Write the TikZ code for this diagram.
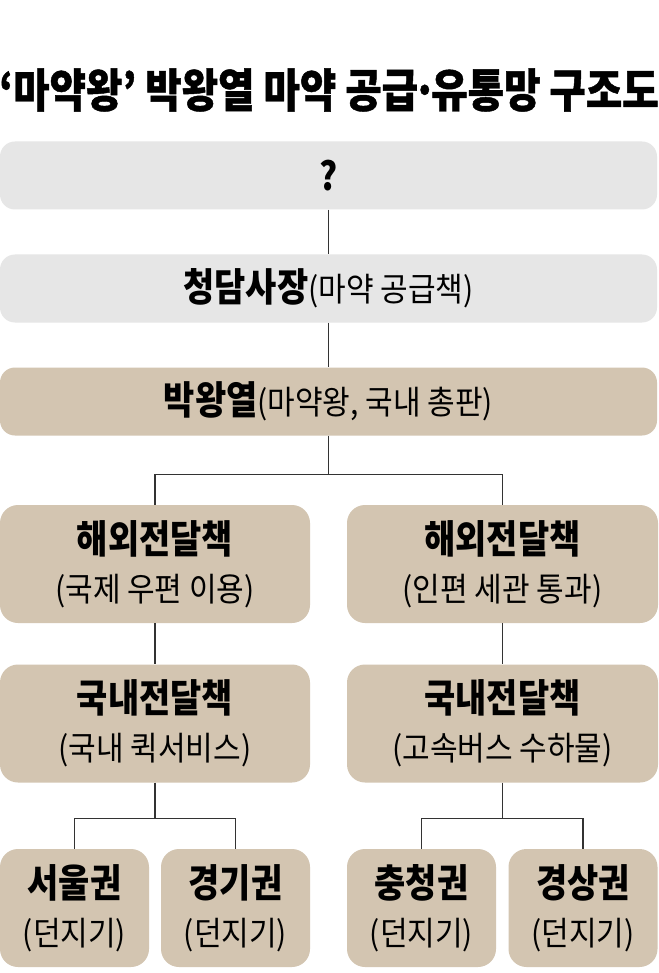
\documentclass[tikz,border=0pt]{standalone}
\usepackage{fontspec}
\setmainfont{Noto Sans CJK KR}[FakeStretch=0.91]
\newfontfamily\headfont{Noto Sans CJK KR}[FakeStretch=0.87]
\newfontfamily\titlefont{Noto Sans CJK KR}[FakeStretch=0.86,FakeBold=1]
\usetikzlibrary{calc}
\definecolor{boxgray}{RGB}{230,230,230}
\definecolor{boxtan}{RGB}{211,197,177}
\tikzset{>=latex}
\tikzstyle{graybox}=[rectangle,fill=boxgray,rounded corners=15pt,minimum width=657pt,minimum height=68pt]
\tikzstyle{tanbox}=[rectangle,fill=boxtan,rounded corners=18pt,minimum height=118pt,align=center,font=\fontsize{33}{48}\selectfont]
\tikzstyle{link}=[draw=black!80,line width=1.2pt]
\newcommand{\headtxt}[1]{{\headfont\fontsize{39}{48}\selectfont\bfseries #1}}
\newcommand{\subtxt}[1]{{\fontsize{33}{48}\selectfont #1}}

\begin{document}
\begin{tikzpicture}[x=1pt,y=-1pt,inner sep=0pt]
\def \half {310};
\def \quart {149};

\fill[white] (0,0) rectangle (658,973);
\useasboundingbox (0,0) rectangle (658,973);

\node[font=\titlefont\fontsize{46}{50}\selectfont\bfseries] (title) at (329,90)
{‘마약왕’ 박왕열 마약 공급\kern-0.12em·\kern-0.12em유통망 구조도};

% top chain
\node[graybox] (boss) at (328.5,175.5) {\headtxt{?}};
\node[graybox] (ceo) at (328.5,288.5) {\headtxt{청담사장}\subtxt{(마약 공급책)}};
\node[graybox,fill=boxtan] (park) at (328.5,401.5) {\headtxt{박왕열}\subtxt{(마약왕, 국내 총판)}};

% two routes
\node[tanbox,minimum width=\half pt] (seaL) at (155,564) {\headtxt{해외전달책}\\(국제 우편 이용)};
\node[tanbox,minimum width=311pt] (seaR) at (502.5,564) {\headtxt{해외전달책}\\(인편 세관 통과)};
\node[tanbox,minimum width=\half pt] (domL) at (155,723.5) {\headtxt{국내전달책}\\(국내 퀵서비스)};
\node[tanbox,minimum width=311pt] (domR) at (502.5,723.5) {\headtxt{국내전달책}\\(고속버스 수하물)};

\foreach \x/\name/\lbl in {74.5/seoul/서울권, 235.5/gyeonggi/경기권, 421.5/chung/충청권, 583/gyeong/경상권} {
	\node[tanbox,minimum width=\quart pt] (\name) at (\x,908) {\headtxt{\lbl}\\(던지기)};
};

\draw[link] (boss.south) -- (ceo.north);
\draw[link] (ceo.south) -- (park.north);

\coordinate (split1) at ($(park.south)+(0,39)$);
\draw[link] (park.south) -- (split1) -| (seaL.north);
\draw[link] (split1) -| (seaR.north);

\draw[link] (seaL.south) -- (domL.north);
\draw[link] (seaR.south) -- (domR.north);

\coordinate (splitL) at ($(domL.south)+(0,36)$);
\coordinate (splitR) at ($(domR.south)+(0,36)$);
\draw[link] (domL.south) -- (splitL) -| (seoul.north);
\draw[link] (splitL) -| (gyeonggi.north);
\draw[link] (domR.south) -- (splitR) -| (chung.north);
\draw[link] (splitR) -| (gyeong.north);

\end{tikzpicture}
\end{document}
